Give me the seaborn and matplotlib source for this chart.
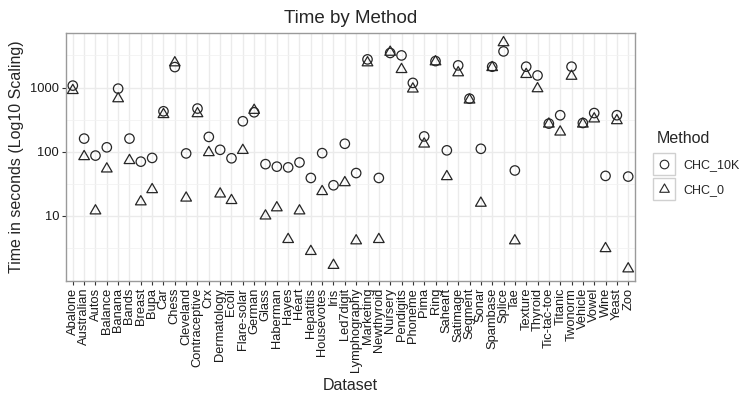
import matplotlib
matplotlib.use("Agg")
import matplotlib.pyplot as plt
from matplotlib.lines import Line2D
from matplotlib.patches import Rectangle
from matplotlib.path import Path
import numpy as np
import pandas as pd
import seaborn as sns

datasets = ["Abalone", "Australian", "Autos", "Balance", "Banana", "Bands", "Breast", "Bupa", "Car",
            "Chess", "Cleveland", "Contraceptive", "Crx", "Dermatology", "Ecoli", "Flare-solar", "German",
            "Glass", "Haberman", "Hayes", "Heart", "Hepatitis", "Housevotes", "Iris", "Led7digit",
            "Lymphography", "Marketing", "Newthyroid", "Nursery", "Pendigits", "Phoneme", "Pima", "Ring",
            "Saheart", "Satimage", "Segment", "Sonar", "Spambase", "Splice", "Tae", "Texture", "Thyroid",
            "Tic-tac-toe", "Titanic", "Twonorm", "Vehicle", "Vowel", "Wine", "Yeast", "Zoo"]

chc_10k = [1070, 160, 87, 117, 960, 160, 70, 80, 426, 2080, 94, 470, 170, 107, 79, 298, 411,
           64, 58.5, 57, 68, 39, 95, 30, 133, 46.5, 2740, 39, 3450, 3160, 1180, 173, 2580,
           105, 2210, 670, 111, 2110, 3650, 51, 2110, 1540, 274, 370, 2110, 280, 400, 42, 370, 41]
chc_0 = [900, 84, 12, 54, 670, 73, 16.6, 25.7, 380, 2430, 19, 392, 97, 22, 17.4, 105, 442,
         10, 13.4, 4.3, 12, 2.8, 24, 1.7, 33, 4.1, 2430, 4.3, 3550, 1910, 950, 132, 2520,
         41, 1700, 640, 15.8, 2050, 5000, 4.1, 1600, 960, 270, 203, 1500, 270, 325, 3.1, 305, 1.5]

methods = ["CHC_10K", "CHC_0"]

df = pd.DataFrame({
    "Dataset": datasets * 2,
    "Time": chc_10k + chc_0,
    "Method": [methods[0]] * len(datasets) + [methods[1]] * len(datasets),
})
df["pos"] = list(range(len(datasets))) * 2

sns.set_style("white")
plt.rcParams["font.family"] = ["Liberation Sans", "DejaVu Sans"]

fig = plt.figure(figsize=(7.39, 3.98), dpi=100)
ax = fig.add_axes([66 / 739, 1 - 281 / 398, (635 - 66) / 739, (281 - 33) / 398])

tri = Path([(0, 0.577), (-0.5, -0.289), (0.5, -0.289), (0, 0.577)],
           [Path.MOVETO, Path.LINETO, Path.LINETO, Path.CLOSEPOLY])
edge = "#262626"
marker_map = {"CHC_10K": ("o", 46), "CHC_0": (tri, 78)}
for m in methods:
    mk, sz = marker_map[m]
    sub = df[df["Method"] == m]
    sns.scatterplot(data=sub, x="pos", y="Time", marker=mk, s=sz, ax=ax, legend=False,
                    zorder=3)
for coll in ax.collections:
    coll.set_facecolor("none")
    coll.set_edgecolor(edge)
    coll.set_linewidth(0.9)

ax.set_yscale("log")
ax.set_ylim(10 ** -0.014, 10 ** 3.849)
ax.set_xlim(-0.6, len(datasets) - 1 + 0.6)

ax.set_xticks(range(len(datasets)))
ax.set_xticklabels(datasets, rotation=90, fontsize=9.3, color="#1a1a1a")
ax.set_yticks([10, 100, 1000])
ax.set_yticklabels(["10", "100", "1000"], fontsize=9.3, color="#1a1a1a")
ax.set_yticks([10 ** 0.5, 10 ** 1.5, 10 ** 2.5, 10 ** 3.5], minor=True)
ax.yaxis.set_minor_formatter(matplotlib.ticker.NullFormatter())
ax.tick_params(axis="both", which="major", length=3, width=0.8, color="#333333", pad=2, direction="out",
               bottom=True, left=True)
ax.tick_params(axis="y", which="minor", length=0)

ax.grid(True, which="major", axis="both", color="#ebebeb", linewidth=1.0, zorder=0)
ax.grid(True, which="minor", axis="y", color="#f2f2f2", linewidth=0.6, zorder=0)
ax.set_axisbelow(True)
for sp in ax.spines.values():
    sp.set_color("#9a9a9a")
    sp.set_linewidth(1.0)

ax.set_xlabel("Dataset", fontsize=11.5, labelpad=4)
ax.set_ylabel("Time in seconds (Log10 Scaling)", fontsize=11.5, labelpad=4)
ax.set_title("Time by Method", fontsize=13.5, pad=7)

handles = [Line2D([], [], linestyle="none", marker="o", markersize=6.2, markerfacecolor="none",
                  markeredgecolor=edge, markeredgewidth=0.8),
           Line2D([], [], linestyle="none", marker=tri, markersize=8, markerfacecolor="none",
                  markeredgecolor=edge, markeredgewidth=0.8)]
leg = ax.legend(handles, methods, title="Method", loc="upper left",
                bbox_to_anchor=(648 / 739, 1 - 122 / 398), bbox_transform=fig.transFigure,
                frameon=False, fontsize=9, title_fontsize=11.5, handlelength=1.2,
                handletextpad=0.9, labelspacing=1.05, borderpad=0.2)
leg._legend_box.align = "left"

fig.canvas.draw()
for h in leg.legend_handles:
    bb = h.get_window_extent(fig.canvas.get_renderer())
    cx = (bb.x0 + bb.x1) / 2
    cy = (bb.y0 + bb.y1) / 2
    half = 11
    fig.add_artist(Rectangle((cx - half, cy - half), 2 * half, 2 * half, transform=None,
                             fill=False, edgecolor="#d0d0d0", linewidth=1.0))

fig.savefig("out.png", dpi=100)
